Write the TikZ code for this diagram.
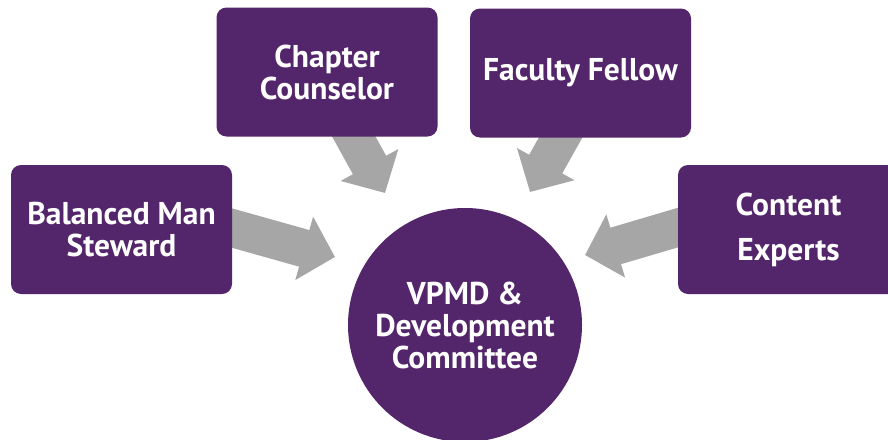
\documentclass[tikz,border=0pt]{standalone}
\usepackage{fontspec}
\setmainfont{PT Sans}
\usetikzlibrary{arrows.meta,calc}
\definecolor{vpurple}{RGB}{83,37,106}
\definecolor{agray}{RGB}{166,166,166}
\pgfdeclarelayer{edgelayer}
\pgfdeclarelayer{nodelayer}
\pgfsetlayers{edgelayer,nodelayer,main}
\tikzstyle{role}=[rectangle, rounded corners=10pt, fill=vpurple, text=white, font=\bfseries\fontsize{31.5}{32}\selectfont, align=center, minimum width=221pt, minimum height=129pt, inner sep=0pt]
\tikzstyle{committee}=[circle, fill=vpurple, text=white, font=\bfseries\fontsize{31.5}{32}\selectfont, align=center, minimum size=234pt, inner sep=0pt]
\tikzstyle{feed}=[-{Triangle[length=32pt,width=64pt]}, draw=agray, line width=38pt]

\begin{document}
\begin{tikzpicture}[x=1pt, y=-1pt]
            \useasboundingbox (0,0) rectangle (888,439);
            \clip (0,0) rectangle (888,439);
            \begin{pgfonlayer}{nodelayer}
                \node [style=role] (steward) at (121.5,229.5) {Balanced Man\\Steward};
                \node [style=role] (counselor) at (327,72) {Chapter\\Counselor};
                \node [style=role] (fellow) at (580.5,73) {Faculty Fellow};
                \node [style=role, font=\bfseries\fontsize{31.5}{45}\selectfont] (experts) at (788.5,229.5) {Content\\Experts};
                \node [style=committee] (vpmd) at (465,325) {VPMD \&\\Development\\Committee};

                \coordinate (steward tip) at (335,257);
                \coordinate (counselor tip) at (385,193);
                \coordinate (fellow tip) at (530,192);
                \coordinate (experts tip) at (585,255);
            \end{pgfonlayer}
            \begin{pgfonlayer}{edgelayer}
                \draw [style=feed] ($(steward.east)+(-20,-7)$) to (steward tip);
                \draw [style=feed] ($(counselor.south)+(18,-16)$) to (counselor tip);
                \draw [style=feed] ($(fellow.south)+(-11,-16)$) to (fellow tip);
                \draw [style=feed] ($(experts.west)+(19,-7.5)$) to (experts tip);
            \end{pgfonlayer}
        \end{tikzpicture}
\end{document}
